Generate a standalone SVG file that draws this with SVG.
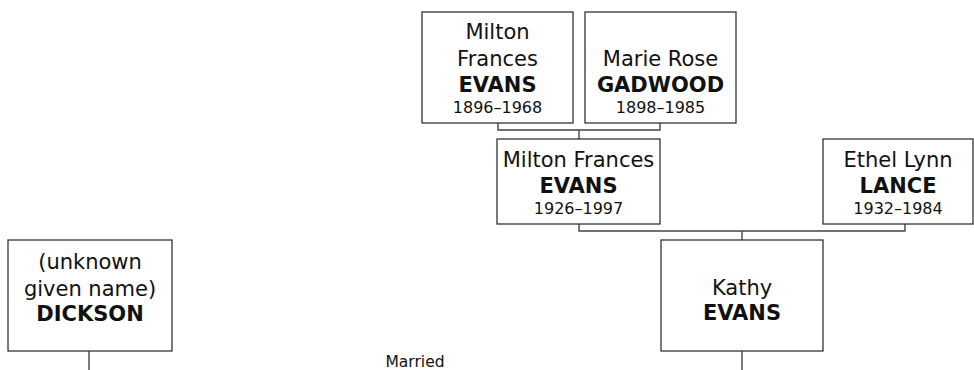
<svg xmlns="http://www.w3.org/2000/svg" width="974" height="370" viewBox="0 0 974 370">
<style>
.box{fill:#fff;stroke:#333;stroke-width:1.3}
.ln{fill:none;stroke:#444;stroke-width:1.4}
text{font-family:"DejaVu Sans",Verdana,sans-serif;fill:#111;text-anchor:middle}
.n{font-size:21px}
.s{font-size:21px;font-weight:bold}
.d{font-size:16px}
.m{font-size:15.5px}
</style>
<rect width="974" height="370" fill="#fff"/>
<g id="connectors">
<path class="ln" d="M498 123V130H660V123M579 130V139"/>
<path class="ln" d="M579 224V231H905V224M742 231V240"/>
<path class="ln" d="M89 351V370"/>
<path class="ln" d="M742 351V370"/>
</g>
<g id="milton1896">
<rect class="box" x="422" y="12" width="151" height="111"/>
<text class="n" x="497.5" y="39">Milton</text>
<text class="n" x="497.5" y="66">Frances</text>
<text class="s" x="497.5" y="92">EVANS</text>
<text class="d" x="497.5" y="113">1896–1968</text>
</g>
<g id="marie">
<rect class="box" x="585" y="12" width="151" height="111"/>
<text class="n" x="660.5" y="66">Marie Rose</text>
<text class="s" x="660.5" y="92">GADWOOD</text>
<text class="d" x="660.5" y="113">1898–1985</text>
</g>
<g id="milton1926">
<rect class="box" x="497" y="139" width="163" height="85"/>
<text class="n" x="578.5" y="167">Milton Frances</text>
<text class="s" x="578.5" y="193">EVANS</text>
<text class="d" x="578.5" y="214">1926–1997</text>
</g>
<g id="ethel">
<rect class="box" x="823" y="139" width="150" height="85"/>
<text class="n" x="898" y="167">Ethel Lynn</text>
<text class="s" x="898" y="193">LANCE</text>
<text class="d" x="898" y="214">1932–1984</text>
</g>
<g id="kathy">
<rect class="box" x="661" y="240" width="162" height="111"/>
<text class="n" x="742" y="295">Kathy</text>
<text class="s" x="742" y="320">EVANS</text>
</g>
<g id="dickson">
<rect class="box" x="8" y="240" width="164" height="111"/>
<text class="n" x="90" y="269">(unknown</text>
<text class="n" x="90" y="296">given name)</text>
<text class="s" x="90" y="321">DICKSON</text>
</g>
<g id="married">
<text class="m" x="415" y="367">Married</text>
</g>
</svg>
